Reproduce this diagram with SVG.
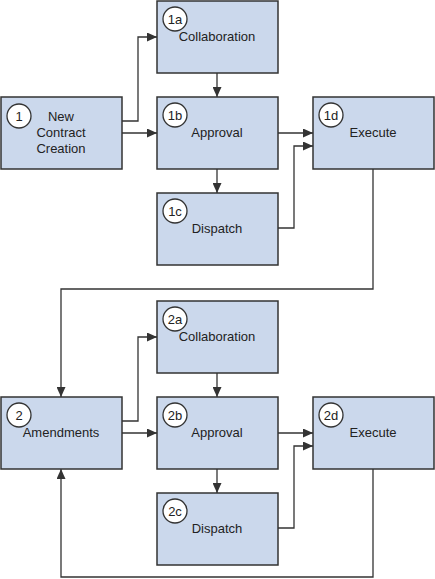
<svg xmlns="http://www.w3.org/2000/svg" width="435" height="579" viewBox="0 0 435 579">
<style>
.box{fill:#cbd8ec;stroke:#333;stroke-width:1.5}
.num{fill:#fff;stroke:#333;stroke-width:1.3}
.t{font-family:"Liberation Sans",Arial,sans-serif;font-size:13px;fill:#222;text-anchor:middle}
.n{font-family:"Liberation Sans",Arial,sans-serif;font-size:13px;fill:#222;text-anchor:middle}
.c{fill:none;stroke:#333;stroke-width:1.3}
</style>
<defs>
<marker id="ah" markerUnits="userSpaceOnUse" markerWidth="11" markerHeight="9" refX="10" refY="4.5" orient="auto">
<path d="M0,0 L10,4.5 L0,9 z" fill="#333"/>
</marker>
</defs>
<rect width="435" height="579" fill="#fff"/>
<g id="connectors">
<path class="c" d="M122,121 H138 V37 H157" marker-end="url(#ah)"/>
<path class="c" d="M122,133 H157" marker-end="url(#ah)"/>
<path class="c" d="M217,73 V97" marker-end="url(#ah)"/>
<path class="c" d="M217,169 V193" marker-end="url(#ah)"/>
<path class="c" d="M278,133 H313" marker-end="url(#ah)"/>
<path class="c" d="M278,228 H294 V146 H313" marker-end="url(#ah)"/>
<path class="c" d="M373,169 V289 H61 V397" marker-end="url(#ah)"/>
<path class="c" d="M122,421 H138 V337 H157" marker-end="url(#ah)"/>
<path class="c" d="M122,433 H157" marker-end="url(#ah)"/>
<path class="c" d="M217,373 V397" marker-end="url(#ah)"/>
<path class="c" d="M217,469 V493" marker-end="url(#ah)"/>
<path class="c" d="M278,433 H313" marker-end="url(#ah)"/>
<path class="c" d="M278,528 H294 V446 H313" marker-end="url(#ah)"/>
<path class="c" d="M373,469 V577 H61 V469" marker-end="url(#ah)"/>
</g>
<g id="n1"><rect class="box" x="1" y="97" width="121" height="72"/><circle class="num" cx="19" cy="116" r="12"/><text class="n" x="19" y="120.5">1</text><text class="t" x="61" y="121">New</text><text class="t" x="61" y="137">Contract</text><text class="t" x="61" y="153">Creation</text></g>
<g id="n1a"><rect class="box" x="157" y="1" width="121" height="72"/><circle class="num" cx="175" cy="19" r="12"/><text class="n" x="175" y="23.5">1a</text><text class="t" x="217" y="41">Collaboration</text></g>
<g id="n1b"><rect class="box" x="157" y="97" width="121" height="72"/><circle class="num" cx="175" cy="115" r="12"/><text class="n" x="175" y="119.5">1b</text><text class="t" x="217" y="137">Approval</text></g>
<g id="n1c"><rect class="box" x="157" y="193" width="121" height="72"/><circle class="num" cx="175" cy="211" r="12"/><text class="n" x="175" y="215.5">1c</text><text class="t" x="217" y="233">Dispatch</text></g>
<g id="n1d"><rect class="box" x="313" y="97" width="121" height="72"/><circle class="num" cx="331" cy="115" r="12"/><text class="n" x="331" y="119.5">1d</text><text class="t" x="373" y="137">Execute</text></g>
<g id="n2"><rect class="box" x="1" y="397" width="121" height="72"/><circle class="num" cx="19" cy="415" r="12"/><text class="n" x="19" y="419.5">2</text><text class="t" x="61" y="437">Amendments</text></g>
<g id="n2a"><rect class="box" x="157" y="301" width="121" height="72"/><circle class="num" cx="175" cy="319" r="12"/><text class="n" x="175" y="323.5">2a</text><text class="t" x="217" y="341">Collaboration</text></g>
<g id="n2b"><rect class="box" x="157" y="397" width="121" height="72"/><circle class="num" cx="175" cy="415" r="12"/><text class="n" x="175" y="419.5">2b</text><text class="t" x="217" y="437">Approval</text></g>
<g id="n2c"><rect class="box" x="157" y="493" width="121" height="72"/><circle class="num" cx="175" cy="511" r="12"/><text class="n" x="175" y="515.5">2c</text><text class="t" x="217" y="533">Dispatch</text></g>
<g id="n2d"><rect class="box" x="313" y="397" width="121" height="72"/><circle class="num" cx="331" cy="415" r="12"/><text class="n" x="331" y="419.5">2d</text><text class="t" x="373" y="437">Execute</text></g>
</svg>
